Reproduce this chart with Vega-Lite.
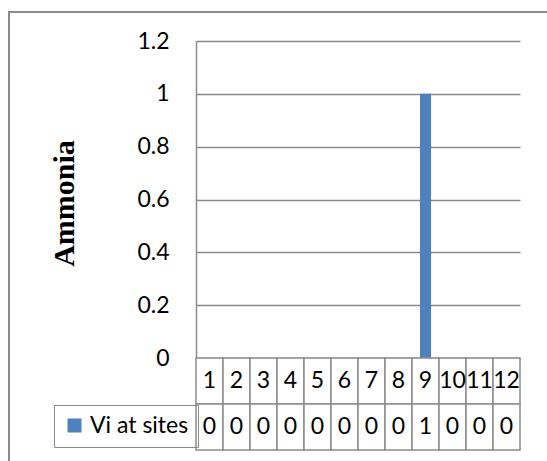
{
  "$schema": "https://vega.github.io/schema/vega-lite/v6.json",
  "width": 545,
  "height": 470,
  "autosize": {"type": "none"},
  "padding": {"left": 9, "top": 12, "right": 0, "bottom": 0},
  "background": "white",
  "config": {
    "view": {"stroke": "#8c8c8c", "strokeWidth": 2},
    "font": "Lato"
  },
  "data": {
    "values": [
      {"site": 1, "value": 0},
      {"site": 2, "value": 0},
      {"site": 3, "value": 0},
      {"site": 4, "value": 0},
      {"site": 5, "value": 0},
      {"site": 6, "value": 0},
      {"site": 7, "value": 0},
      {"site": 8, "value": 0},
      {"site": 9, "value": 1},
      {"site": 10, "value": 0},
      {"site": 11, "value": 0},
      {"site": 12, "value": 0}
    ]
  },
  "encoding": {
    "x": {
      "field": "site",
      "type": "ordinal",
      "scale": {"range": [187, 511], "paddingInner": 0, "paddingOuter": 0},
      "axis": null
    }
  },
  "layer": [
    {
      "mark": {"type": "bar", "width": {"band": 0.41}},
      "encoding": {
        "y": {
          "field": "value",
          "type": "quantitative",
          "scale": {"domain": [0, 1.2], "range": [346, 29], "nice": false, "zero": true},
          "axis": {
            "orient": "left",
            "offset": -187,
            "values": [0, 0.2, 0.4, 0.6, 0.8, 1, 1.2],
            "format": "~g",
            "grid": true,
            "gridColor": "#8c8c8c",
            "gridWidth": 1.5,
            "ticks": false,
            "domainColor": "#8c8c8c",
            "domainWidth": 1.5,
            "labelFontSize": 23,
            "labelColor": "black",
            "labelPadding": 27,
            "title": "Ammonia",
            "titleFont": "Liberation Serif",
            "titleFontWeight": "bold",
            "titleFontSize": 30,
            "titleColor": "black",
            "titlePadding": 57,
            "titleY": 191
          }
        },
        "color": {
          "datum": "Vi at sites",
          "scale": {"range": ["#4f81bd"]},
          "legend": {
            "orient": "none",
            "legendX": 45,
            "legendY": 393,
            "title": null,
            "strokeColor": "#8c8c8c",
            "padding": 9,
            "symbolType": "square",
            "symbolSize": 196,
            "symbolStrokeWidth": 0,
            "symbolOpacity": 1,
            "labelFontSize": 23,
            "labelColor": "black",
            "labelOffset": 4
          }
        }
      }
    },
    {
      "layer": [
        {
          "mark": {"type": "rect", "fill": "white", "stroke": "#8c8c8c", "strokeWidth": 1.5},
          "encoding": {"y": {"datum": "header"}}
        },
        {
          "mark": {"type": "rect", "fill": "white", "stroke": "#8c8c8c", "strokeWidth": 1.5},
          "encoding": {"y": {"datum": "data"}}
        },
        {
          "mark": {"type": "text", "fontSize": 23, "color": "black"},
          "encoding": {"y": {"datum": "header"}, "text": {"field": "site"}}
        },
        {
          "mark": {"type": "text", "fontSize": 23, "color": "black"},
          "encoding": {"y": {"datum": "data"}, "text": {"field": "value"}}
        }
      ],
      "encoding": {
        "y": {
          "type": "ordinal",
          "scale": {"domain": ["header", "data"], "range": [346, 438], "paddingInner": 0, "paddingOuter": 0},
          "axis": null
        }
      }
    }
  ],
  "resolve": {"scale": {"y": "independent"}}
}
